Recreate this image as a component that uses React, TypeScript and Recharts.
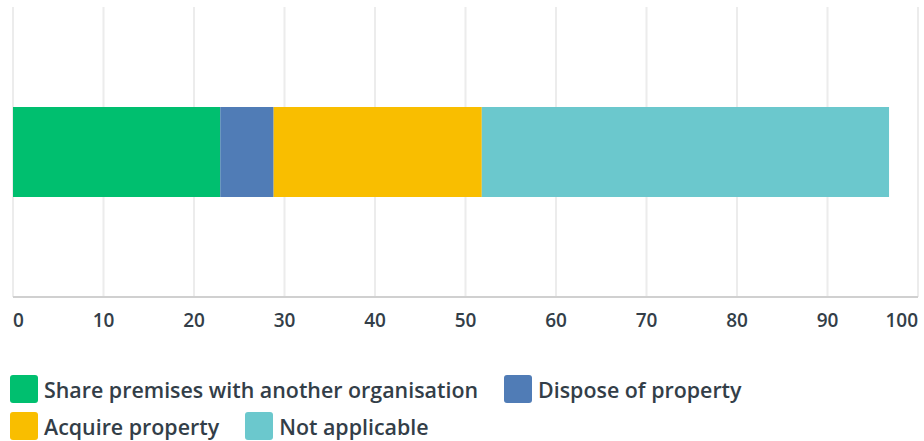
import { Bar, BarChart, CartesianGrid, XAxis, YAxis } from 'recharts';

const category = ['Response'];
const seriesNames = ['Share premises with another organisation', 'Dispose of property', 'Acquire property', 'Not applicable'];
const seriesKeys = ['share', 'dispose', 'acquire', 'notApplicable'];
const seriesValues = [22.9, 5.9, 23.0, 45.0];
const seriesColors = ['#00BF6F', '#507CB6', '#F9BE00', '#6BC8CD'];
const xTicks = [0, 10, 20, 30, 40, 50, 60, 70, 80, 90, 100];

const data = category.map((name) => {
  const row: Record<string, string | number> = { name };
  seriesKeys.forEach((k, i) => {
    row[k] = seriesValues[i];
  });
  return row;
});

const FONT = '"Open Sans", sans-serif';
const TEXT = '#333E48';

function XTick(props: any) {
  const { x, y, payload } = props;
  const v = payload.value;
  const anchor = v === xTicks[0] ? 'start' : v === xTicks[xTicks.length - 1] ? 'end' : 'middle';
  return (
    <text x={x} y={y + 22} textAnchor={anchor} fill={TEXT} fontSize={19} fontWeight={600} fontFamily={FONT}>
      {v}
    </text>
  );
}

export default function App() {
  return (
    <div style={{ position: 'absolute', left: 0, top: 0, width: 924, height: 441, background: '#fff' }}>
      <BarChart
        width={924}
        height={345}
        data={data}
        layout="vertical"
        margin={{ top: 7, right: 6, left: 13, bottom: 0 }}
        barSize={90}
      >
        <CartesianGrid horizontal={false} stroke="#ECECEC" strokeWidth={2} />
        <XAxis
          type="number"
          domain={[0, 100]}
          ticks={xTicks}
          height={48}
          tickLine={false}
          axisLine={{ stroke: '#D0D0D0', strokeWidth: 2 }}
          tick={<XTick />}
          interval={0}
        />
        <YAxis
          type="category"
          dataKey="name"
          width={0}
          tick={false}
          tickLine={false}
          axisLine={{ stroke: '#CCCCCC', strokeWidth: 2 }}
        />
        {seriesKeys.map((k, i) => (
          <Bar key={k} dataKey={k} name={seriesNames[i]} stackId="a" fill={seriesColors[i]} isAnimationActive={false} />
        ))}
      </BarChart>
      <div
        style={{
          position: 'absolute',
          left: 10,
          top: 375,
          width: 900,
          display: 'flex',
          flexWrap: 'wrap',
          rowGap: 9,
          fontFamily: FONT,
          fontWeight: 600,
          fontSize: 21.4,
          color: TEXT,
        }}
      >
        {seriesNames.map((n, i) => (
          <div key={n} style={{ display: 'flex', alignItems: 'center', marginRight: 26, height: 28 }}>
            <span
              style={{
                display: 'inline-block',
                width: 28,
                height: 28,
                borderRadius: 3,
                background: seriesColors[i],
                marginRight: 6,
              }}
            />
            <span>{n}</span>
          </div>
        ))}
      </div>
    </div>
  );
}
